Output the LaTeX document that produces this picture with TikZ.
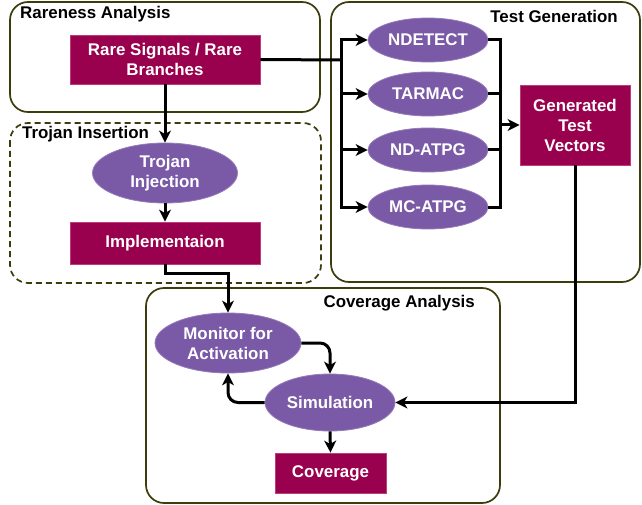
\documentclass[tikz,border=0pt]{standalone}
\usepackage{fontspec}
\setmainfont{Liberation Sans}
\usetikzlibrary{shapes.geometric,arrows.meta}
\definecolor{boxred}{RGB}{153,0,77}
\definecolor{boxedge}{RGB}{190,60,120}
\definecolor{algopurple}{RGB}{122,90,166}
\definecolor{grpline}{RGB}{60,60,12}
\begin{document}
\begin{tikzpicture}[x=1pt,y=-1pt,
  txt/.style={font=\fontsize{16.9}{20}\selectfont\bfseries, align=center},
  rarebox/.style={txt, rectangle, fill=boxred, draw=boxedge, line width=0.8pt, text=white, inner sep=0pt},
  algo/.style={txt, ellipse, fill=algopurple, draw=algopurple!80!white, line width=0.8pt, text=white, inner sep=0pt},
  group/.style={draw=grpline, line width=1.7pt, rounded corners=18pt},
  grplabel/.style={txt, inner sep=0pt},
  flow/.style={line width=3pt, -{Stealth[length=12pt,width=12pt,inset=3.5pt]}},
  wire/.style={line width=3pt}]
\useasboundingbox (0,0) rectangle (642,505);
% groups
\draw[group] (10,2) rectangle (320,112);
\draw[group] (331,2) rectangle (640,282);
\draw[group, dash pattern=on 6pt off 4pt] (10,123) rectangle (321,283);
\draw[group] (146,288) rectangle (500,503);
\node[grplabel, anchor=west] (lblrare) at (20,14) {Rareness Analysis};
\node[grplabel, anchor=east] (lbltest) at (618,16) {Test Generation};
\node[grplabel, anchor=west] (lbltroj) at (22,134) {Trojan Insertion};
\node[grplabel, anchor=east] (lblcov) at (475,303) {Coverage Analysis};
% nodes
\node[rarebox, minimum width=190pt, minimum height=49pt] (rare) at (165,59.5) {Rare Signals / Rare\\Branches};
\node[algo, minimum width=145pt, minimum height=60pt] (inject) at (165,173) {Trojan\\Injection};
\node[rarebox, minimum width=190pt, minimum height=42pt] (impl) at (165,243) {Implementaion};
\node[algo, minimum width=120pt, minimum height=44pt] (ndetect) at (428,40) {NDETECT};
\node[algo, minimum width=120pt, minimum height=44pt] (tarmac) at (428,94) {TARMAC};
\node[algo, minimum width=120pt, minimum height=44pt] (ndatpg) at (428,150) {ND-ATPG};
\node[algo, minimum width=120pt, minimum height=44pt] (mcatpg) at (428,207) {MC-ATPG};
\node[rarebox, minimum width=110pt, minimum height=80pt] (gtv) at (575,125) {Generated\\Test\\Vectors};
\node[algo, minimum width=146pt, minimum height=60pt] (monitor) at (228,343) {Monitor for\\Activation};
\node[algo, minimum width=130pt, minimum height=57pt] (sim) at (330,402.5) {Simulation};
\node[rarebox, minimum width=111pt, minimum height=40pt] (cov) at (330.5,473) {Coverage};
% connectors
\coordinate (fanL) at (341,60);
\coordinate (fanR) at (500,125);
\draw[wire] (rare.east) -- (fanL);
\foreach \n in {ndetect,tarmac,ndatpg,mcatpg}{
  \draw[flow] (fanL) |- (\n.west);
  \draw[wire] (\n.east) -| (fanR);
}
\draw[flow] (fanR) -- (gtv.west);
\draw[flow] (rare.south) -- (inject.north);
\draw[flow] (inject.south) -- (impl.north);
\draw[flow] (impl.south) -- ++(0,9) -| (monitor.north);
\draw[flow] (gtv.south) |- (sim.east);
\draw[flow, rounded corners=10pt] (monitor.east) -| (sim.north);
\draw[flow, rounded corners=10pt] (sim.west) -| (monitor.south);
\draw[flow] (sim.south) -- (cov.north);
\end{tikzpicture}
\end{document}
